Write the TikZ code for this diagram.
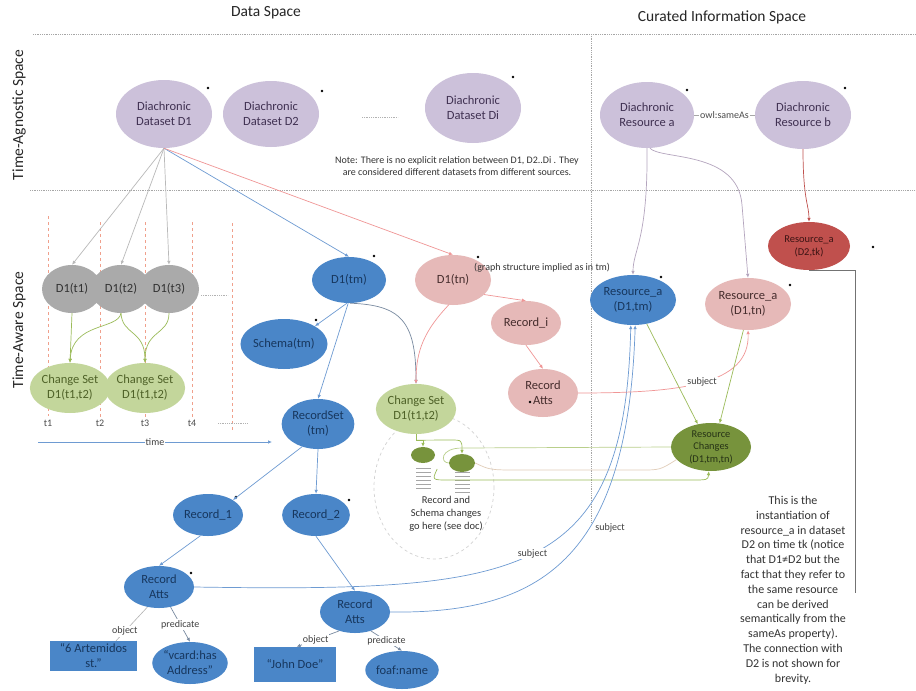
\documentclass[tikz,border=0pt]{standalone}
\usepackage{fontspec}
\setmainfont{Carlito}
\usetikzlibrary{shapes.geometric,arrows.meta}
\definecolor{lav}{RGB}{204,193,218}
\definecolor{lavtxt}{RGB}{64,49,82}
\definecolor{grayn}{RGB}{170,170,170}
\definecolor{graytxt}{RGB}{50,50,50}
\definecolor{lgreen}{RGB}{195,214,155}
\definecolor{lgtxt}{RGB}{79,98,40}
\definecolor{dgreen}{RGB}{119,147,60}
\definecolor{dgtxt}{RGB}{38,51,22}
\definecolor{bluen}{RGB}{74,134,200}
\definecolor{bluetxt}{RGB}{23,55,94}
\definecolor{pinkn}{RGB}{230,185,184}
\definecolor{pinktxt}{RGB}{70,45,45}
\definecolor{redn}{RGB}{192,80,77}
\definecolor{redtxt}{RGB}{60,20,20}
\definecolor{lineblue}{RGB}{110,155,210}
\definecolor{linepink}{RGB}{240,150,150}
\definecolor{linegreen}{RGB}{155,187,89}
\definecolor{linegray}{RGB}{185,185,185}
\definecolor{linemauve}{RGB}{180,165,190}
\definecolor{linebeige}{RGB}{225,205,185}
\definecolor{dashred}{RGB}{240,160,140}
\begin{document}
\begin{tikzpicture}[x=1pt,y=-1pt,
  sz/.style 2 args={minimum width=#1pt, minimum height=#2pt},
  ell/.style={ellipse, inner sep=0pt, align=center, font=\fontsize{12.5}{15}\selectfont},
  lavnode/.style={ell, fill=lav, text=lavtxt},
  graynode/.style={ell, fill=grayn, text=graytxt},
  lgnode/.style={ell, fill=lgreen, text=lgtxt},
  dgnode/.style={ell, fill=dgreen, text=dgtxt},
  bluenode/.style={ell, fill=bluen, text=bluetxt},
  pinknode/.style={ell, fill=pinkn, text=pinktxt},
  rednode/.style={ell, fill=redn, text=redtxt, font=\fontsize{10.5}{13}\selectfont},
  rectnode/.style={rectangle, fill=bluen, text=bluetxt, inner sep=0pt, align=center, font=\fontsize{12.5}{15}\selectfont},
  lbl/.style={font=\fontsize{10}{12}\selectfont, text=black!75, fill=white, inner sep=1pt},
  plain/.style={font=\fontsize{10}{12.5}\selectfont, text=black!80, align=center, inner sep=0pt},
  hdr/.style={font=\fontsize{15.5}{18}\selectfont, text=black!85, inner sep=0pt},
  arr/.style={-{Latex[length=4pt,width=3.5pt]}, line width=0.7pt},
  sect/.style={densely dotted, gray!70, line width=0.8pt},
  dot/.style={fill=black}
]
\useasboundingbox (0,0) rectangle (916,691);
\fill[white] (0,0) rectangle (916,691);

% headers
\node[hdr] (hds) at (266,13) {Data Space};
\node[hdr] (hcs) at (722,17) {Curated Information Space};
\node[hdr, rotate=90] (hta) at (19,115) {Time-Agnostic Space};
\node[hdr, rotate=90] (htw) at (19,330) {Time-Aware Space};

% section lines
\draw[sect] (33,34) -- (916,34);
\draw[sect] (30,190) -- (916,190);
\draw[sect] (591,34) -- (591,522);

% red dashed time lines
\foreach \x/\a/\b in {48/216/416, 100/222/418, 145/222/418, 192/222/418, 232/223/432}
  \draw[dashred, dashed, line width=0.8pt] (\x,\a) -- (\x,\b);

% dashed region
\draw[gray!35, dashed, line width=0.7pt] (434,487) ellipse [x radius=60, y radius=72];

% top nodes
\node[lavnode, sz={96}{68}] (d1) at (164,114) {Diachronic\\Dataset D1};
\node[lavnode, sz={96}{66}] (d2) at (271,114) {Diachronic\\Dataset D2};
\node[lavnode, sz={96}{70}] (di) at (473,108) {Diachronic\\Dataset Di};
\node[lavnode, sz={94}{66}] (resa) at (647,115) {Diachronic\\Resource a};
\node[lavnode, sz={96}{68}] (resb) at (803,115) {Diachronic\\Resource b};
\draw[gray!60, densely dotted, line width=0.8pt] (362,117) -- (398,117);
\node[plain] (note) at (457,166) {Note: There is no explicit relation between D1, D2..Di . They\\are considered different datasets from different sources.};

% time-aware left
\node[graynode, sz={60}{48}] (t1) at (72,289) {D1(t1)};
\node[graynode, sz={60}{48}] (t2) at (121,289) {D1(t2)};
\node[graynode, sz={60}{48}] (t3) at (169,289) {D1(t3)};
\draw[gray!60, densely dotted, line width=0.8pt] (201,295) -- (228,295);
\node[lgnode, sz={80}{50}] (cs1) at (70,388) {Change Set\\D1(t1,t2)};
\node[lgnode, sz={76}{50}] (cs2) at (145,388) {Change Set\\D1(t1,t2)};
\foreach \x/\t in {48/t1, 100/t2, 145/t3, 192/t4}
  \node[plain, text=black!70] (lab\t) at (\x,423) {\t};
\draw[gray!60, densely dotted, line width=0.8pt] (218,423) -- (248,423);
\coordinate (ts) at (38,442);
\coordinate (te) at (272,442);
\draw[arr, lineblue] (ts) -- node[lbl] {time} (te);

% centre
\node[bluenode, sz={74}{46}] (tm) at (349,280) {D1(tm)};
\node[pinknode, sz={76}{50}] (tn) at (453,280) {D1(tn)};
\node[plain, anchor=west] (gs) at (474,268) {(graph structure implied as in tm)};
\node[pinknode, sz={70}{44}] (ri) at (526,323) {Record\_i};
\node[pinknode, sz={70}{48}] (rap) at (543,393) {Record\\Atts};
\node[bluenode, sz={86}{50}] (sc) at (284,344) {Schema(tm)};
\node[bluenode, sz={70}{50}] (rs) at (318,424) {RecordSet\\(tm)};
\node[lgnode, sz={74}{50}] (cm) at (416,409) {Change Set\\D1(t1,t2)};
\node[dgnode, sz={24}{16}] (se1) at (423,455) {};
\node[dgnode, sz={26}{18}] (se2) at (462,463) {};
\foreach \k in {0,...,5} {
  \draw[gray!70, line width=0.8pt] (416,{468+4*\k}) -- (431,{468+4*\k});
  \draw[gray!70, line width=0.8pt] (455,{472+4*\k}) -- (470,{472+4*\k});
}
\node[plain, font=\fontsize{10.5}{13}\selectfont] (rsc) at (446,514) {Record and\\Schema changes\\go here (see doc)};

\node[bluenode, sz={70}{42}] (r1) at (208,515) {Record\_1};
\node[bluenode, sz={66}{42}] (r2) at (316,515) {Record\_2};
\node[bluenode, sz={70}{42}] (ra1) at (159,587) {Record\\Atts};
\node[bluenode, sz={70}{42}] (ra2) at (355,612) {Record\\Atts};
\node[rectnode, minimum width=87pt, minimum height=30pt] (b1) at (93.5,656) {“6 Artemidos\\st.”};
\node[bluenode, sz={70}{42}] (vc) at (190,663) {“vcard:has\\Address”};
\node[rectnode, minimum width=82pt, minimum height=35pt] (b2) at (295,664.5) {“John Doe”};
\node[bluenode, sz={70}{38}] (fo) at (402,670) {foaf:name};

% right
\node[bluenode, sz={86}{50}] (rtm) at (633,300) {Resource\_a\\(D1,tm)};
\node[pinknode, sz={86}{52}] (rtn) at (748,304) {Resource\_a\\(D1,tn)};
\node[rednode, sz={82}{48}] (rd2) at (809,246) {Resource\_a\\(D2,tk)};
\node[dgnode, sz={80}{48}, font=\fontsize{10.4}{12.6}\selectfont] (rc) at (711,447) {Resource\\Changes\\(D1,tm,tn)};
\node[plain, font=\fontsize{12}{14.8}\selectfont, anchor=north] (expl) at (793,496) {This is the\\instantiation of\\resource\_a in dataset\\D2 on time tk (notice\\that D1≠D2 but the\\fact that they refer to\\the same resource\\can be derived\\semantically from the\\sameAs property).\\The connection with\\D2 is not shown for\\brevity.};

% dots
\foreach \p in {(208,88),(322,91),(513,77),(687,90),(845,88),(374,256),(478,257),(316,320),(661,277),(790,285),(873,247),(236,497),(349,500),(191,573),(530,402)}
  \fill[dot] \p circle (1.3);

% connectors top
\draw[gray!70, line width=0.7pt] (resa.east) -- node[lbl, text=black!70] {owl:sameAs} (resb.west);
\draw[arr, linegray] (d1.south) -- (t1.north);
\draw[arr, linegray] (d1.south) -- (t2.north);
\draw[arr, linegray] (d1.south) -- (t3.north);
\draw[arr, lineblue] (d1.south) -- (tm.north);
\draw[arr, linepink] (d1.south) -- (tn.north);

% change sets left
\draw[arr, linegreen] (t1.south) -- (cs1.north);
\draw[arr, linegreen] (t2.south) .. controls (118,330) and (72,322) .. (cs1.north);
\draw[arr, linegreen] (t2.south) .. controls (122,335) and (145,330) .. (cs2.north);
\draw[arr, linegreen] (t3.south) .. controls (169,335) and (145,330) .. (cs2.north);

% centre connectors
\draw[arr, lineblue] (tm.-95) -- (sc.north east);
\draw[arr, lineblue] (tm.-92) -- (rs.north);
\draw[arr, gray!60!lineblue] (tm.-88) .. controls (400,305) and (416,320) .. (cm.north);
\draw[arr, linepink] (tn.-100) .. controls (425,330) and (416,350) .. (cm.north);
\draw[arr, linepink] (tn.-25) -- (ri.north);
\draw[arr, linepink] (ri.south) -- (rap.north);
\draw[arr, linegreen] (cm.south) -- ++(0,6) -| (se1.north);
\draw[arr, linegreen] (cm.south) ++(0,6) -- (450,440) .. controls (462,440) .. (se2.north);
\draw[linegreen!70, line width=0.7pt] (se2.west) .. controls (440,463) and (440,448) .. (462,448) -- (rc.west);
\draw[linebeige, line width=0.7pt] (se2.east) .. controls (490,470) .. (520,470) -- (640,470) .. controls (660,470) .. (rc.200);
\draw[arr, linegreen] (se1.east) ++(2,14) .. controls (432,480) .. (448,480) -- (690,480) .. controls (708,480) .. (rc.-95);

\draw[arr, lineblue] (rs.235) -- (r1.north east);
\draw[arr, lineblue] (rs.south) -- (r2.north);
\draw[arr, lineblue] (r1.250) -- (ra1.north);
\draw[arr, lineblue] (r2.south) -- (ra2.north);
\draw[gray!60, line width=0.6pt] (ra1.240) -- node[pos=0.72, lbl] {object} (b1.34);
\draw[arr, gray!60!lineblue] (ra1.-60) -- node[pos=0.5, lbl] {predicate} (vc.north);
\draw[arr, gray!60!lineblue] (ra2.230) -- node[pos=0.55, lbl] {object} (b2.85);
\draw[arr, gray!60!lineblue] (ra2.-50) -- node[pos=0.5, lbl] {predicate} (fo.north);

% subject curves
\draw[arr, lineblue] (ra1.east) .. controls (520,592) and (625,580) .. node[pos=0.5, lbl] {subject} (rtm.-95);
\draw[arr, lineblue] (ra2.east) .. controls (540,614) and (628,560) .. node[pos=0.6, right=5pt, lbl] {subject} (rtm.-85);
\draw[arr, linepink] (rap.east) .. controls (680,393) and (750,385) .. node[pos=0.5, lbl] {subject} (rtn.south);

% right connectors
\draw[arr, linemauve] (resa.south) .. controls (648,240) and (633,250) .. (rtm.north);
\draw[arr, linemauve] (resa.-85) .. controls (660,160) and (738,150) .. (742,205) .. controls (745,240) .. (rtn.north);
\draw[arr, redn] (resb.south) .. controls (803,200) and (809,205) .. (rd2.north);
\draw[arr, linegreen] (rtm.-60) -- (rc.120);
\draw[arr, linegreen] (rtn.-100) -- (rc.70);
\coordinate (bk) at (855,593);
\draw[gray!90!black, line width=0.9pt] (rd2.south) -| (bk);
\end{tikzpicture}
\end{document}
